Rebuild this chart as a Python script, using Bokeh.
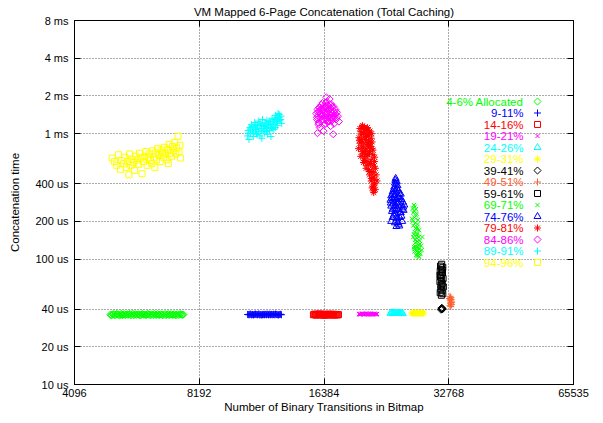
import math

from bokeh.embed import file_html
from bokeh.models import FixedTicker, Label, LogAxis, Range1d
from bokeh.plotting import figure
from bokeh.resources import INLINE

# ---------------------------------------------------------------- axes
x_ticks = [4096, 8192, 16384, 32768, 65535]
x_tick_labels = ["4096", "8192", "16384", "32768", "65535"]
y_ticks = [10, 20, 40, 100, 200, 400, 1000, 2000, 4000, 8000]          # microseconds
y_tick_labels = ["10 us", "20 us", "40 us", "100 us", "200 us", "400 us",
                 "1 ms", "2 ms", "4 ms", "8 ms"]

# ---------------------------------------------------------------- series
labels = ["4-6% Allocated", "9-11%", "14-16%", "19-21%", "24-26%", "29-31%",
          "39-41%", "49-51%", "59-61%", "69-71%", "74-76%", "79-81%",
          "84-86%", "89-91%", "94-96%"]
colors = ["#00ff00", "#0000ff", "#ff0000", "#ff00ff", "#00ffff", "#ffff00",
          "#000000", "#ff6030", "#000000", "#00ff00", "#0000ff", "#ff0000",
          "#ff00ff", "#00ffff", "#ffff00"]
markers = ["diamond", "cross", "square", "x", "triangle", "asterisk",
           "diamond", "cross", "square", "x", "triangle", "asterisk",
           "diamond", "cross", "square"]

# x = binary transitions in bitmap, y = concatenation time in microseconds
a04_x = [5000, 5040, 5095, 5150, 5200, 5265, 5310, 5370, 5425, 5480, 5545, 5600,
         5660, 5725, 5780, 5850, 5915, 5980, 6040, 6110, 6185, 6250, 6320, 6390,
         6465, 6540, 6610, 6690, 6770, 6850, 6930, 7010, 7095, 7180, 7260, 7350,
         7440, 7500,
         5020, 5070, 5120, 5175, 5230, 5290, 5340, 5400, 5450, 5510, 5570, 5630,
         5690, 5750, 5815, 5880, 5945, 6010, 6075, 6145, 6215, 6285, 6355, 6425,
         6500, 6575, 6650, 6730, 6810, 6890, 6970, 7050, 7135, 7220, 7305, 7395,
         7470]
a04_y = [36.1, 35.7, 36.5, 35.9, 36.3, 35.5, 36.6, 36.0, 35.8, 36.4, 36.2, 35.6,
         36.7, 36.0, 35.9, 36.3, 35.7, 36.5, 36.1, 35.8, 36.4, 35.6, 36.2, 36.6,
         35.9, 36.0, 36.3, 35.7, 36.5, 36.1, 35.8, 36.4, 36.0, 35.6, 36.3, 36.2,
         35.9, 36.1,
         35.8, 36.3, 35.6, 36.5, 36.0, 36.2, 35.7, 36.4, 36.1, 35.9, 36.6, 36.0,
         35.8, 36.4, 36.2, 35.6, 36.3, 36.0, 35.9, 36.5, 36.1, 36.3, 35.7, 36.0,
         36.4, 35.8, 36.2, 36.0, 35.7, 36.5, 36.1, 35.9, 36.3, 36.0, 35.8, 36.4,
         36.0]

a09_x = [10720, 10810, 10900, 10980, 11070, 11150, 11240, 11330, 11410, 11500,
         11590, 11680, 11770, 11860, 11950, 12040, 12140, 12230, 12330, 12420,
         12520, 12620, 12720, 12830, 12930,
         10760, 10850, 10940, 11020, 11110, 11200, 11290, 11370, 11460, 11550,
         11640, 11720, 11810, 11900, 12000, 12090, 12180, 12280, 12370, 12470,
         12570, 12670, 12780, 12880]
a09_y = [36.2, 36.0, 36.4, 36.1, 35.9, 36.3, 36.2, 36.0, 36.5, 36.1, 35.8, 36.3,
         36.0, 36.2, 36.4, 35.9, 36.1, 36.3, 36.0, 36.2, 36.5, 36.1, 35.9, 36.2,
         36.0,
         36.1, 36.3, 35.9, 36.2, 36.0, 36.4, 36.1, 36.3, 35.9, 36.2, 36.0, 36.1,
         36.3, 36.0, 36.2, 36.4, 36.0, 36.1, 36.3, 35.9, 36.2, 36.0, 36.1, 36.3]

a14_x = [15450, 15570, 15700, 15820, 15950, 16080, 16200, 16330, 16460, 16590,
         16720, 16860, 16990, 17130, 17270, 17410, 17550, 17700,
         15510, 15630, 15760, 15890, 16010, 16140, 16270, 16400, 16520, 16660,
         16790, 16920, 17060, 17200, 17340, 17480, 17630, 17760]
a14_y = [36.0, 36.4, 35.8, 36.2, 36.5, 35.9, 36.1, 36.3, 35.7, 36.2, 36.0, 36.4,
         35.9, 36.1, 36.3, 35.8, 36.2, 36.0,
         36.2, 35.9, 36.3, 36.0, 36.2, 36.4, 35.8, 36.1, 36.3, 35.9, 36.2, 36.0,
         36.3, 35.9, 36.1, 36.2, 35.9, 36.1]

a19_x = [19900, 20080, 20270, 20460, 20650, 20840, 21030, 21230, 21420, 21620,
         21820, 22000,
         19990, 20170, 20360, 20550, 20740, 20930, 21130, 21320, 21520, 21720,
         21910]
a19_y = [36.5, 36.2, 36.8, 36.4, 36.6, 36.3, 36.7, 36.5, 36.2, 36.6, 36.4, 36.5,
         36.3, 36.6, 36.5, 36.3, 36.5, 36.6, 36.3, 36.6, 36.4, 36.5, 36.3]

a24_x = [23700, 23930, 24160, 24400, 24640, 24880, 25130, 25380,
         23810, 24040, 24280, 24520, 24760, 25000, 25250]
a24_y = [37.0, 37.3, 36.8, 37.1, 36.9, 37.2, 37.0, 36.8,
         37.1, 36.9, 37.2, 37.0, 37.1, 36.9, 37.1]

a29_x = [26700, 26960, 27220, 27480, 27740, 28000, 28260, 28480,
         26830, 27090, 27350, 27610, 27870, 28130, 28370]
a29_y = [37.2, 36.9, 37.4, 37.1, 37.3, 37.0, 37.2, 37.1,
         37.0, 37.2, 37.0, 37.2, 37.1, 37.3, 37.0]

a39_x = [31450, 31600, 31520, 31680, 31380, 31560]
a39_y = [40.3, 39.7, 40.9, 40.1, 39.5, 40.5]

a49_x = [33000, 33150, 32900, 33200, 33050, 33300, 33100, 33250, 33000, 33150,
         33100, 33200]
a49_y = [50.5, 49.5, 48.5, 47.5, 46.5, 45.5, 44.5, 43.5, 42.5, 41.8, 48.0, 45.0]

a59_x = [31500, 31300, 31700, 31450, 31250, 31650, 31500, 31300, 31750, 31450,
         31200, 31600, 31400, 31800, 31350, 31550, 31250, 31700, 31450, 31600,
         31200, 31550]
a59_y = [91, 88, 86, 83, 80, 78, 75, 72, 70, 68, 66, 64, 62, 60, 58, 56, 54, 53,
         51.5, 82, 74, 61]

a69_x = [27000, 26800, 27300, 26900, 27400, 27100, 26700, 27600, 27200, 26900,
         27500, 27800, 27100, 27600, 26900, 27400, 27900, 27200, 27700, 28100,
         27300, 27800, 27100, 27600, 28000, 27400, 27800, 28200, 27000, 28300,
         27150, 27050, 27350, 26850, 27550, 27250, 27000, 27450, 27750, 27150,
         27550, 27950, 27250, 27650, 27050, 27450, 27850, 27350, 27700, 27500]
a69_y = [270, 255, 250, 235, 230, 215, 210, 205, 195, 185, 180, 170, 165, 160,
         150, 148, 140, 135, 130, 128, 122, 120, 115, 112, 110, 106, 104, 118,
         125, 150,
         262, 242, 222, 200, 190, 176, 158, 155, 150, 142, 138, 132, 126, 124,
         120, 116, 113, 108, 107, 172]

a74_x = [24400, 24300, 24550, 24200, 24650, 24000, 24400, 24800, 23800, 24250,
         24700, 25100, 23700, 24100, 24550, 25000, 25400, 23800, 24300, 24800,
         25300, 23900, 24400, 25000, 25500, 24000, 24600, 25200, 23800, 24300,
         24800, 25300, 24500, 24900, 25600,
         24350, 24450, 24150, 24600, 24000, 24900, 23900, 24200, 24500, 24850,
         25200, 23750, 24050, 24400, 24750, 25150, 25450, 24000, 24350, 24700,
         25100, 24150, 24550, 24950, 24700]
a74_y = [440, 405, 415, 375, 385, 345, 355, 350, 320, 325, 310, 330, 295, 290,
         280, 300, 285, 265, 255, 265, 250, 240, 230, 235, 245, 215, 210, 220,
         200, 195, 190, 200, 182, 184, 270,
         425, 395, 360, 365, 330, 335, 305, 310, 300, 315, 300, 280, 275, 265,
         285, 270, 260, 250, 245, 250, 235, 225, 220, 215, 196]

a79_x = [20300, 20500, 20700, 20900, 20100, 20400, 20800, 21100, 19900, 20200,
         20600, 21000, 21300, 20000, 20400, 20800, 21200, 19850, 20300, 20700,
         21100, 21500, 20100, 20500, 20900, 21300, 21700, 20400, 20800, 21200,
         21600, 21000, 21400, 21800, 21100, 21500, 21900, 21300, 21700, 21500,
         21800, 21600, 22000, 20600, 21400,
         20000, 20250, 20550, 20850, 21150, 20150, 20450, 20750, 21050, 21350,
         19950, 20350, 20650, 20950, 21250, 20200, 20600, 21000, 21400, 20300,
         20700, 21100, 21500, 20500, 20900, 21300, 21700, 20700, 21100, 21500,
         21300, 21700, 21400, 21650, 21550]
a79_y = [1160, 1120, 1100, 1060, 1040, 1000, 980, 1010, 930, 900, 940, 880, 920,
         840, 800, 850, 790, 760, 720, 760, 700, 740, 660, 640, 680, 620, 650,
         590, 560, 580, 550, 520, 500, 530, 470, 450, 470, 420, 400, 380, 360,
         340, 420, 700, 860,
         1100, 1140, 1080, 1120, 1050, 980, 1020, 950, 960, 1000, 880, 860, 900,
         820, 840, 780, 740, 800, 760, 690, 660, 720, 680, 610, 600, 570, 600,
         530, 500, 490, 440, 430, 370, 390, 350]

a84_x = [15700, 15760, 15800, 15850, 15900, 15960, 16000, 16050, 16100, 16150,
         16200, 16250, 16300, 16350, 16400, 16450, 16500, 16550, 16600, 16650,
         16700, 16750, 16800, 16850, 16900, 16950, 17000, 17050, 17100, 17150,
         17200, 17260, 17320, 17380, 17450, 17520, 17600, 17700, 17800, 15800,
         16350, 17250, 16000, 17000, 16600,
         15750, 15850, 15950, 16050, 16150, 16250, 16350, 16450, 16550, 16650,
         16750, 16850, 16950, 17050, 17150, 17250, 17350, 17450, 17550, 15900,
         16100, 16300, 16500, 16700, 16900, 17100, 17300, 16200, 16600, 17000]
a84_y = [1450, 1300, 1560, 1380, 1220, 1500, 1620, 1340, 1450, 1700, 1280, 1550,
         1400, 1650, 1180, 1480, 1360, 1760, 1590, 1300, 1450, 1680, 1520, 1250,
         1890, 1600, 1420, 1720, 1330, 1550, 1460, 1650, 1200, 1400, 1560, 1300,
         1480, 1380, 1250, 1010, 1050, 990, 1120, 1150, 1950,
         1350, 1480, 1620, 1560, 1380, 1760, 1500, 1620, 1420, 1800, 1350, 1580,
         1700, 1480, 1640, 1380, 1500, 1440, 1350, 1180, 1250, 1300, 1200, 1240,
         1310, 1270, 1340, 1580, 1680, 1600]

a89_x = [10700, 10750, 10800, 10860, 10900, 10950, 11010, 11060, 11100, 11150,
         11200, 11260, 11310, 11370, 11420, 11480, 11530, 11590, 11640, 11700,
         11760, 11810, 11870, 11930, 11980, 12040, 12100, 12160, 12220, 12280,
         12340, 12400, 12460, 12520, 12580, 12640, 12700, 12760, 12820, 12900,
         12950, 12200, 11600,
         10780, 10880, 10980, 11080, 11180, 11280, 11380, 11480, 11580, 11680,
         11780, 11880, 11980, 12080, 12180, 12280, 12380, 12480, 12580, 12680,
         12780, 12880, 11300, 11900, 12500]
a89_y = [960, 1060, 900, 1120, 1000, 1180, 1050, 950, 1130, 1230, 1080, 1000,
         1160, 1260, 1100, 960, 1190, 1070, 1300, 1140, 1010, 1220, 1100, 1280,
         990, 1170, 1060, 1240, 1130, 1330, 1200, 1080, 1300, 1400, 1250, 1160,
         1450, 1350, 1280, 1380, 1210, 950, 920,
         1010, 1090, 1150, 1010, 1180, 1110, 1040, 1220, 1160, 1050, 1150, 1200,
         1120, 1250, 1180, 1100, 1260, 1200, 1330, 1290, 1420, 1300, 980, 1040,
         1120]

a94_x = [5050, 5120, 5180, 5230, 5290, 5320, 5380, 5420, 5470, 5510, 5560, 5600,
         5640, 5690, 5720, 5760, 5800, 5850, 5880, 5920, 5960, 6010, 6050, 6090,
         6130, 6170, 6200, 6250, 6290, 6330, 6370, 6420, 6460, 6500, 6550, 6590,
         6630, 6680, 6720, 6760, 6800, 6850, 6890, 6930, 6980, 7020, 7060, 7110,
         7150, 7190, 7230, 7280, 7320, 7360, 7380, 6400, 5540, 6900]
a94_y = [640, 600, 560, 680, 520, 610, 575, 650, 540, 600, 690, 560, 630, 590,
         510, 660, 615, 570, 700, 640, 480, 600, 660, 720, 560, 640, 690, 610,
         580, 730, 650, 700, 620, 760, 680, 600, 740, 710, 650, 780, 690, 620,
         750, 820, 700, 660, 790, 730, 850, 690, 770, 955, 720, 810, 640, 540,
         470, 580]

series_x = [a04_x, a09_x, a14_x, a19_x, a24_x, a29_x, a39_x, a49_x, a59_x,
            a69_x, a74_x, a79_x, a84_x, a89_x, a94_x]
series_y = [a04_y, a09_y, a14_y, a19_y, a24_y, a29_y, a39_y, a49_y, a59_y,
            a69_y, a74_y, a79_y, a84_y, a89_y, a94_y]

# ---------------------------------------------------------------- layout
W, H = 603, 423
LEFT, RIGHT, TOP, BOTTOM = 74, 30, 20, 39
FRAME_W = W - LEFT - RIGHT
FRAME_H = H - TOP - BOTTOM
FONT = "Liberation Sans"
GRID = "#555555"

X0, X1 = 4096, 65535
Y0, Y1 = 10, 8000

p = figure(width=W, height=H, x_axis_type="log", y_axis_type="log",
           x_range=Range1d(X0, X1), y_range=Range1d(Y0, Y1),
           output_backend="svg", toolbar_location=None,
           min_border_left=LEFT, min_border_right=RIGHT,
           min_border_top=TOP, min_border_bottom=BOTTOM,
           background_fill_color="white", border_fill_color="white")

p.title.text = "VM Mapped 6-Page Concatenation (Total Caching)"
p.title.align = "center"
p.title.text_font = FONT
p.title.text_font_size = "11.5px"
p.title.text_font_style = "normal"
p.title.text_color = "black"
p.title.standoff = 6

p.outline_line_color = "black"
p.outline_line_width = 1
p.outline_line_alpha = 1

xt = FixedTicker(ticks=x_ticks)
yt = FixedTicker(ticks=y_ticks)


def style_axis(ax, ticker, overrides):
    ax.ticker = ticker
    ax.major_label_overrides = overrides
    ax.major_tick_in = 6
    ax.major_tick_out = 0
    ax.minor_tick_in = 0
    ax.minor_tick_out = 0
    ax.major_tick_line_color = "black"
    ax.axis_line_color = "black"
    ax.major_label_text_font = FONT
    ax.major_label_text_font_size = "11px"
    ax.major_label_text_color = "black"
    ax.axis_label_text_font = FONT
    ax.axis_label_text_font_size = "11.5px"
    ax.axis_label_text_font_style = "normal"
    ax.axis_label_text_color = "black"


style_axis(p.xaxis[0], xt, dict(zip(x_ticks, x_tick_labels)))
style_axis(p.yaxis[0], yt, dict(zip(y_ticks, y_tick_labels)))
p.xaxis.axis_label = "Number of Binary Transitions in Bitmap"
p.xaxis.major_label_standoff = 4
p.xaxis.axis_label_standoff = 1
p.yaxis.axis_label = "Concatenation time"
p.yaxis.major_label_standoff = 6
p.yaxis.axis_label_standoff = 11

# mirrored tick marks on the top and right edges
for side, ticker in (("above", xt), ("right", yt)):
    ax = LogAxis()
    style_axis(ax, ticker, {t: "" for t in ticker.ticks})
    ax.major_label_text_font_size = "1px"
    ax.major_label_standoff = 0
    p.add_layout(ax, side)

for g, ticker in ((p.xgrid, xt), (p.ygrid, yt)):
    g.ticker = ticker
    g.grid_line_color = GRID
    g.grid_line_dash = "1 2"
    g.grid_line_width = 1

# ---------------------------------------------------------------- markers
SIZES = {"diamond": 5, "cross": 7, "square": 6, "x": 6, "triangle": 7, "asterisk": 7}


def draw(xs, ys, marker, color):
    kw = dict(size=SIZES[marker], line_color=color, fill_color=None, line_width=1)
    if marker == "diamond":
        p.scatter(xs, ys, marker="square", angle=math.pi / 4, **kw)
    else:
        p.scatter(xs, ys, marker=marker, **kw)


for xs, ys, m, c in zip(series_x, series_y, markers, colors):
    draw(xs, ys, m, c)

# ---------------------------------------------------------------- key
KEY_TEXT_RIGHT = 523      # pixel column where key labels end
KEY_SYMBOL_X = 537        # pixel column of key symbols
KEY_FIRST_ROW = 101       # pixel row of the first entry
KEY_ROW_STEP = 11.5


def px_to_x(px):
    return X0 * (X1 / X0) ** ((px - LEFT) / FRAME_W)


def py_to_y(py):
    return Y0 * (Y1 / Y0) ** ((TOP + FRAME_H - py) / FRAME_H)


for i, (lab, c, m) in enumerate(zip(labels, colors, markers)):
    row = KEY_FIRST_ROW + i * KEY_ROW_STEP
    p.add_layout(Label(x=KEY_TEXT_RIGHT - LEFT, y=TOP + FRAME_H - row,
                       x_units="screen", y_units="screen", text=lab,
                       text_align="right", text_baseline="middle",
                       text_font=FONT, text_font_size="11.5px",
                       text_color=c))
    draw([px_to_x(KEY_SYMBOL_X)], [py_to_y(row)], m, c)

# heading of the next panel, running off the bottom edge
p.add_layout(Label(x=FRAME_W / 2, y=-31, x_units="screen", y_units="screen",
                   text="VM Mapped 24-Page Concatenation (Total Caching)",
                   text_align="center", text_baseline="top",
                   text_font=FONT, text_font_size="11.5px",
                   text_color="black"))

open("out.html", "w").write(file_html(p, INLINE))
